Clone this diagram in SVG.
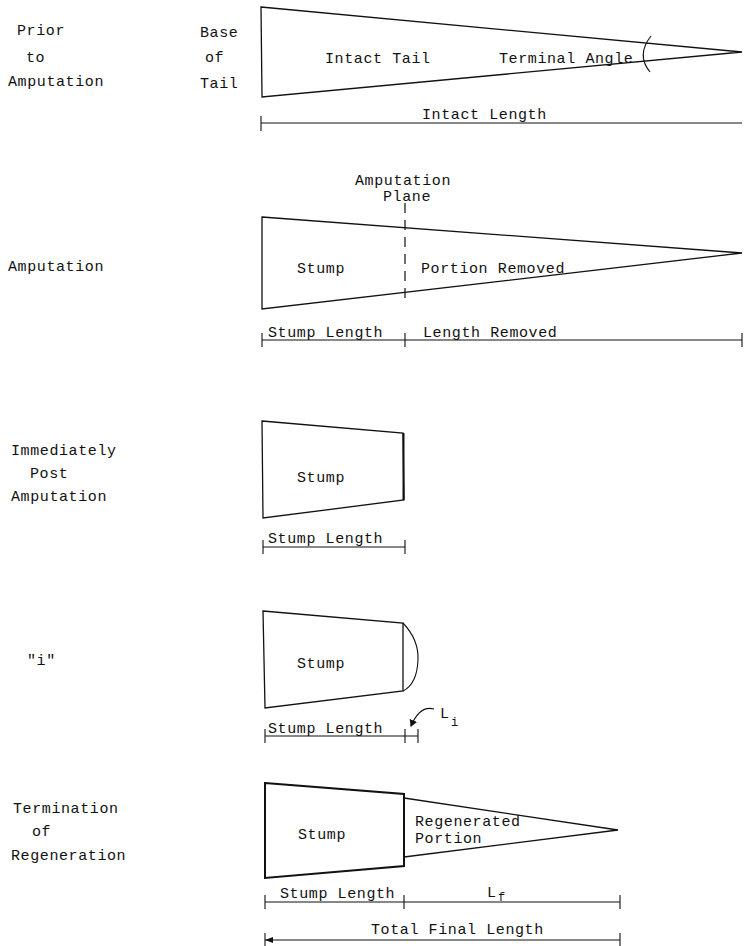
<svg xmlns="http://www.w3.org/2000/svg" width="744" height="946" viewBox="0 0 744 946">
<style>
text{font-family:"Liberation Mono","DejaVu Sans Mono",monospace;font-size:15px;letter-spacing:0.6px;fill:#111}
.sub{font-size:12px}
.s{fill:none;stroke:#111;stroke-width:1.3;stroke-linejoin:miter}
.b{fill:none;stroke:#111;stroke-width:2}
.d{stroke:#111;stroke-width:1.1;fill:none}
.dash{stroke:#111;stroke-width:1.2;stroke-dasharray:10,7;fill:none}
</style>
<defs>
<marker id="ah" markerWidth="8" markerHeight="8" refX="6" refY="4" orient="auto" markerUnits="userSpaceOnUse"><path d="M0,0 L7,4 L0,8 Z" fill="#111"/></marker>
</defs>
<rect width="744" height="946" fill="#fff"/>

<g id="labels-left">
<text x="17" y="35">Prior</text>
<text x="26" y="62">to</text>
<text x="8" y="86">Amputation</text>
<text x="8" y="271">Amputation</text>
<text x="11" y="455">Immediately</text>
<text x="30" y="478">Post</text>
<text x="11" y="501">Amputation</text>
<text x="27" y="665">"i"</text>
<text x="13" y="813">Termination</text>
<text x="32" y="836">of</text>
<text x="11" y="860">Regeneration</text>
</g>

<g id="intact">
<text x="200" y="37">Base</text>
<text x="205" y="62">of</text>
<text x="200" y="88">Tail</text>
<path class="s" d="M261,7 L742,52 L262,97 Z"/>
<text x="325" y="63">Intact Tail</text>
<text x="499" y="63">Terminal Angle</text>
<path class="d" d="M651,36 Q636,55 650,72"/>
</g>

<g id="amputation">
<text x="355" y="185">Amputation</text>
<text x="383" y="201">Plane</text>
<path class="s" d="M262,217 L742,253 L262,309 Z"/>
<path class="dash" d="M405,203 V304"/>
<text x="297" y="273">Stump</text>
<text x="421" y="273">Portion Removed</text>
</g>

<g id="post">
<path class="s" d="M262,421 L403,433 L404,500 L263,518 Z"/>
<path class="b" d="M403.5,433 V500"/>
<text x="297" y="482">Stump</text>
</g>

<g id="stage-i">
<path class="s" d="M263,611 L403,623 L403,691 L265,708 Z"/>
<path class="d" d="M403,623 Q419,640 418,660 Q417,684 403,691"/>
<text x="297" y="668">Stump</text>
<text x="440" y="718">L</text>
<text class="sub" x="451" y="726">i</text>
</g>

<g id="termination">
<path class="b" d="M265,783 L404,794 L404,866 L265,878 Z"/>
<path class="s" d="M404,798 L618,830 L404,857"/>
<text x="298" y="839">Stump</text>
<text x="415" y="826">Regenerated</text>
<text x="415" y="843">Portion</text>
</g>

<g id="connectors">
<!-- intact length -->
<path class="d" d="M261,123 H742 M261,116 V131"/>
<text x="422" y="119">Intact Length</text>
<!-- amputation dims -->
<path class="d" d="M262,340 H742 M262,333 V347 M405,333 V347 M742,333 V347"/>
<text x="268" y="337">Stump Length</text>
<text x="423" y="337">Length Removed</text>
<!-- post dims -->
<path class="d" d="M263,547 H405 M263,540 V554 M405,540 V554"/>
<text x="268" y="543">Stump Length</text>
<!-- i dims -->
<path class="d" d="M265,736 H418 M265,729 V743 M405,729 V743 M418,729 V743"/>
<text x="268" y="733">Stump Length</text>
<path class="d" d="M434,709 Q420,705 411,726" marker-end="url(#ah)"/>
<!-- termination dims -->
<path class="d" d="M265,902 H620 M265,895 V909 M404,895 V909 M620,895 V909"/>
<text x="280" y="898">Stump Length</text>
<text x="487" y="897">L</text>
<text class="sub" x="498" y="901">f</text>
<path class="d" d="M265,940 H620 M265,933 V946 M620,933 V946"/>
<path d="M265,940 L273,937 L273,943 Z" fill="#111"/>
<text x="371" y="934">Total Final Length</text>
</g>
</svg>
